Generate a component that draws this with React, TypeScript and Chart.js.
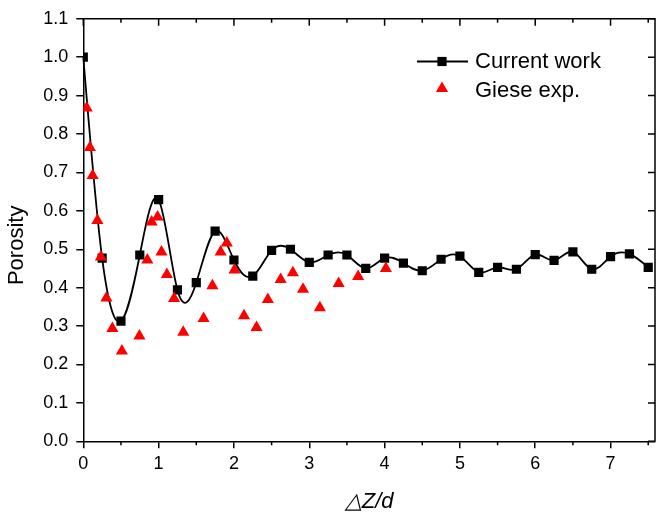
import React, { useEffect, useRef } from 'react';
import { Chart, registerables } from 'chart.js';

Chart.register(...registerables);

// ---- data ----
const currentX = [0, 0.25, 0.5, 0.75, 1.0, 1.25, 1.5, 1.75, 2.0, 2.25, 2.5, 2.75, 3.0, 3.25, 3.5, 3.75, 4.0, 4.25, 4.5, 4.75, 5.0, 5.25, 5.5, 5.75, 6.0, 6.25, 6.5, 6.75, 7.0, 7.25, 7.5];
const currentY = [1.0, 0.477, 0.313, 0.485, 0.629, 0.394, 0.413, 0.547, 0.472, 0.430, 0.497, 0.500, 0.466, 0.485, 0.485, 0.450, 0.477, 0.464, 0.444, 0.474, 0.482, 0.440, 0.453, 0.448, 0.486, 0.471, 0.493, 0.448, 0.481, 0.488, 0.453];

const gieseX = [0.045, 0.088, 0.124, 0.187, 0.233, 0.307, 0.386, 0.512, 0.745, 0.850, 0.907, 0.986, 1.038, 1.109, 1.205, 1.327, 1.597, 1.714, 1.823, 1.905, 2.007, 2.134, 2.300, 2.450, 2.620, 2.782, 2.917, 3.141, 3.390, 3.649, 4.017];
const gieseY = [0.868, 0.765, 0.692, 0.575, 0.480, 0.373, 0.294, 0.235, 0.274, 0.472, 0.571, 0.584, 0.493, 0.434, 0.372, 0.284, 0.320, 0.405, 0.493, 0.516, 0.446, 0.327, 0.296, 0.369, 0.421, 0.439, 0.396, 0.348, 0.411, 0.429, 0.450];

const seriesNames = ['Current work', 'Giese exp.'];
const xTitle = '\u25B3Z/d';
const yTitle = 'Porosity';
const X_MIN = 0;
const X_MAX = 7.59;
const X_STEP = 1;
const Y_MIN = 0;
const Y_MAX = 1.1;
const Y_STEP = 0.1;

const FONT = '"Liberation Sans", Arial, sans-serif';

// Draws the "Current work" connecting line as a natural cubic spline through
// the dataset's own points (pixel positions from Chart.js scales).
const splinePlugin = {
  id: 'splineLine',
  beforeDatasetsDraw(chart: any) {
    const meta = chart.getDatasetMeta(1);
    const pts = meta.data.map((p: any) => ({ x: p.x, y: p.y }));
    const n = pts.length;
    if (n < 2) return;
    const h: number[] = [];
    for (let i = 0; i < n - 1; i++) h.push(pts[i + 1].x - pts[i].x);
    // solve for second derivatives M (natural: M0 = Mn-1 = 0)
    const a: number[] = new Array(n).fill(0);
    const b: number[] = new Array(n).fill(1);
    const c: number[] = new Array(n).fill(0);
    const d: number[] = new Array(n).fill(0);
    for (let i = 1; i < n - 1; i++) {
      a[i] = h[i - 1];
      b[i] = 2 * (h[i - 1] + h[i]);
      c[i] = h[i];
      d[i] = 6 * ((pts[i + 1].y - pts[i].y) / h[i] - (pts[i].y - pts[i - 1].y) / h[i - 1]);
    }
    for (let i = 1; i < n; i++) {
      const w = a[i] / b[i - 1];
      b[i] -= w * c[i - 1];
      d[i] -= w * d[i - 1];
    }
    const M: number[] = new Array(n).fill(0);
    M[n - 1] = d[n - 1] / b[n - 1];
    for (let i = n - 2; i >= 0; i--) M[i] = (d[i] - c[i] * M[i + 1]) / b[i];
    const { ctx } = chart;
    ctx.save();
    ctx.strokeStyle = '#000';
    ctx.lineWidth = 1.8;
    ctx.lineJoin = 'round';
    ctx.beginPath();
    ctx.moveTo(pts[0].x, pts[0].y);
    for (let i = 0; i < n - 1; i++) {
      const hi = h[i];
      const s = (pts[i + 1].y - pts[i].y) / hi;
      const d0 = s - (hi * (2 * M[i] + M[i + 1])) / 6;
      const d1 = s + (hi * (M[i] + 2 * M[i + 1])) / 6;
      ctx.bezierCurveTo(
        pts[i].x + hi / 3, pts[i].y + (hi / 3) * d0,
        pts[i + 1].x - hi / 3, pts[i + 1].y - (hi / 3) * d1,
        pts[i + 1].x, pts[i + 1].y
      );
    }
    ctx.stroke();
    ctx.restore();
  },
};

const framePlugin = {
  id: 'frame',
  afterDraw(chart: any) {
    const { ctx, chartArea, scales } = chart;
    const { left, right, top, bottom } = chartArea;
    const xs = scales.x;
    const ys = scales.y;
    ctx.save();
    ctx.strokeStyle = '#000';
    ctx.lineWidth = 1.5;
    ctx.beginPath();
    ctx.moveTo(left, top);
    ctx.lineTo(right, top);
    ctx.lineTo(right, bottom);
    ctx.stroke();
    ctx.beginPath();
    const majors = xs.ticks.map((t: any) => t.value);
    majors.forEach((v: number) => {
      const px = xs.getPixelForValue(v);
      ctx.moveTo(px, top);
      ctx.lineTo(px, top + 7);
      const mid = v + X_STEP / 2;
      if (mid <= X_MAX) {
        const mx = xs.getPixelForValue(mid);
        ctx.moveTo(mx, top);
        ctx.lineTo(mx, top + 4);
        ctx.moveTo(mx, bottom);
        ctx.lineTo(mx, bottom + 4);
      }
    });
    ys.ticks.forEach((t: any) => {
      const py = ys.getPixelForValue(t.value);
      ctx.moveTo(right, py);
      ctx.lineTo(right - 7, py);
    });
    ctx.stroke();
    ctx.restore();
  },
};

const legendPlugin = {
  id: 'customLegend',
  afterDatasetsDraw(chart: any) {
    const { ctx } = chart;
    ctx.save();
    const y1 = 61.5;
    ctx.strokeStyle = '#000';
    ctx.lineWidth = 1.8;
    ctx.beginPath();
    ctx.moveTo(417, y1);
    ctx.lineTo(468, y1);
    ctx.stroke();
    ctx.fillStyle = '#000';
    ctx.fillRect(442 - 4.6, y1 - 4.6, 9.2, 9.2);
    const y2 = 88.5;
    ctx.fillStyle = '#ff0000';
    ctx.beginPath();
    ctx.moveTo(442, y2 - 7);
    ctx.lineTo(442 + 6.1, y2 + 3.5);
    ctx.lineTo(442 - 6.1, y2 + 3.5);
    ctx.closePath();
    ctx.fill();
    ctx.fillStyle = '#000';
    ctx.font = `22px ${FONT}`;
    ctx.textAlign = 'left';
    ctx.textBaseline = 'alphabetic';
    ctx.fillText(seriesNames[0], 475, 67.5);
    ctx.fillText(seriesNames[1], 475, 96.5);
    ctx.restore();
  },
};

export default function App() {
  const ref = useRef<HTMLCanvasElement | null>(null);
  useEffect(() => {
    const canvas = ref.current;
    if (!canvas) return;
    const chart = new Chart(canvas, {
      type: 'scatter',
      data: {
        datasets: [
          {
            label: seriesNames[1],
            data: gieseX.map((x, i) => ({ x, y: gieseY[i] })),
            showLine: false,
            pointStyle: 'triangle',
            pointRadius: 7,
            pointHoverRadius: 7,
            backgroundColor: '#ff0000',
            borderColor: '#ff0000',
            borderWidth: 0,
            order: 0,
          },
          {
            label: seriesNames[0],
            data: currentX.map((x, i) => ({ x, y: currentY[i] })),
            showLine: false,
            pointStyle: 'rect',
            pointRadius: 6.5,
            pointHoverRadius: 6.5,
            backgroundColor: '#000',
            borderColor: '#000',
            borderWidth: 1.8,
            pointBorderWidth: 0,
            order: 1,
          },
        ],
      },
      options: {
        animation: false,
        responsive: false,
        devicePixelRatio: 1,
        layout: { padding: { top: 16, right: 1, left: 0, bottom: 0 } },
        plugins: {
          legend: { display: false },
          tooltip: { enabled: false },
        },
        scales: {
          x: {
            type: 'linear',
            min: X_MIN,
            max: X_MAX,
            ticks: {
              stepSize: X_STEP,
              includeBounds: false,
              color: '#000',
              font: { family: FONT, size: 18 },
              padding: 5,
              maxRotation: 0,
              callback: (v: any) => String(v),
            },
            grid: {
              drawOnChartArea: false,
              drawTicks: true,
              tickLength: 7,
              color: '#000',
              lineWidth: 1.5,
            },
            border: { display: true, color: '#000', width: 1.5 },
            title: {
              display: true,
              text: xTitle,
              color: '#000',
              font: { family: FONT, size: 22, style: 'italic', lineHeight: 1 },
              padding: 0,
            },
            afterFit: (s: any) => {
              s.height = 71.7;
            },
          },
          y: {
            type: 'linear',
            min: Y_MIN,
            max: Y_MAX,
            ticks: {
              stepSize: Y_STEP,
              color: '#000',
              font: { family: FONT, size: 18 },
              padding: 8,
              callback: (v: any) => Number(v).toFixed(1),
            },
            grid: {
              drawOnChartArea: false,
              drawTicks: true,
              tickLength: 7,
              color: '#000',
              lineWidth: 1.5,
            },
            border: { display: true, color: '#000', width: 1.5 },
            title: {
              display: true,
              text: yTitle + '     ',
              color: '#000',
              font: { family: FONT, size: 22, lineHeight: 1 },
              padding: { top: 6, bottom: 0 },
            },
            afterFit: (s: any) => {
              s.width = 83.3;
            },
          },
        },
      },
      plugins: [splinePlugin, framePlugin, legendPlugin],
    });
    return () => chart.destroy();
  }, []);

  return (
    <div style={{ position: 'absolute', left: 0, top: 0, width: 662, height: 513, background: '#fff' }}>
      <canvas ref={ref} width={662} height={513} style={{ display: 'block', width: 662, height: 513 }} />
    </div>
  );
}
